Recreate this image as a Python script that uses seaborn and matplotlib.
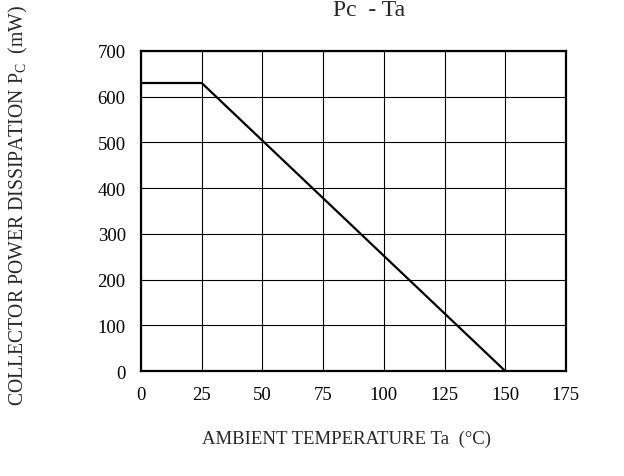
import numpy as np
import pandas as pd
import matplotlib
matplotlib.use("Agg")
import matplotlib.pyplot as plt
import seaborn as sns

# derating curve
ta = [0, 25, 150]
pc = [630, 630, 0]
x_ticks = [0, 25, 50, 75, 100, 125, 150, 175]
y_ticks = [0, 100, 200, 300, 400, 500, 600, 700]

sns.set_theme(style="white")
plt.rcParams["font.family"] = ["Liberation Serif", "DejaVu Serif"]
plt.rcParams["mathtext.fontset"] = "custom"
plt.rcParams["mathtext.rm"] = "Liberation Serif"
plt.rcParams["mathtext.it"] = "Liberation Serif"

df = pd.DataFrame({"Ta": ta, "Pc": pc})

fig = plt.figure(figsize=(6.24, 4.77), dpi=100)
ax = fig.add_axes([0.226, 0.22, 0.681, 0.671])
sns.lineplot(data=df, x="Ta", y="Pc", color="black", linewidth=1.6, ax=ax)

ax.set_xlim(0, 175)
ax.set_ylim(0, 700)
ax.set_xticks(x_ticks)
ax.set_yticks(y_ticks)
ax.grid(True, color="black", linewidth=0.8)
for s in ax.spines.values():
    s.set_color("black")
    s.set_linewidth(1.6)
ax.tick_params(length=0, labelsize=13.5, colors="black", pad=11)
ax.set_xlabel("")
ax.set_ylabel("")

fig.text(0.556, 0.078, "AMBIENT TEMPERATURE Ta  (°C)", ha="center", va="center",
         fontsize=13.5)
fig.text(0.030, 0.57, r"COLLECTOR POWER DISSIPATION P$_\mathrm{C}$  (mW)",
         ha="center", va="center", rotation=90, fontsize=14.2)
fig.text(0.591, 0.966, "Pc  - Ta", ha="center", va="baseline", fontsize=17)

plt.savefig("out.png", dpi=100)
